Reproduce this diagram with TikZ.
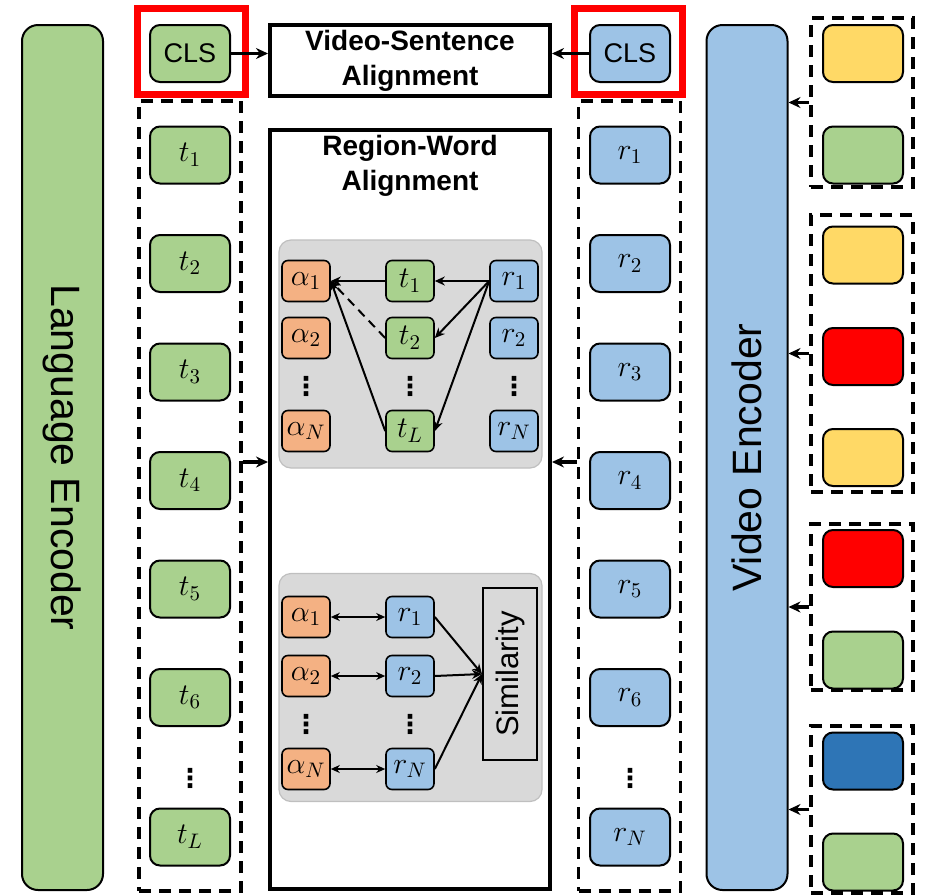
\RequirePackage{fix-cm}
\documentclass[tikz,border=0pt]{standalone}
\usepackage{amsmath}
\usepackage{graphicx}
\usepackage{fontspec}
\setsansfont{Liberation Sans}
\newfontfamily\dotfont{DejaVu Sans}
\usetikzlibrary{arrows.meta}

\definecolor{tokgreen}{HTML}{A9D18E}
\definecolor{tokblue}{HTML}{9DC3E6}
\definecolor{tokorange}{HTML}{F4B183}
\definecolor{tokyellow}{HTML}{FFD966}
\definecolor{tokred}{HTML}{FF0000}
\definecolor{tokdeep}{HTML}{2E75B6}
\definecolor{panelgray}{HTML}{D9D9D9}

\begin{document}
\begin{tikzpicture}[x=0.5pt, y=-0.5pt,
  enc/.style={draw, line width=1pt, rounded corners=8pt, minimum width=40.5pt, minimum height=432.5pt, inner sep=0pt, font=\sffamily\fontsize{20.5}{24}\selectfont},
  tok/.style={draw, line width=1pt, rounded corners=5pt, minimum width=40pt, minimum height=28.5pt, inner sep=0pt, font=\fontsize{15}{18}\selectfont},
  cls/.style={tok, font=\sffamily\fontsize{13.5}{16}\selectfont},
  sm/.style={draw, line width=0.8pt, rounded corners=3pt, minimum width=24pt, minimum height=20.5pt, inner sep=0pt, font=\fontsize{15}{18}\selectfont},
  patch/.style={draw, line width=1pt, rounded corners=5pt, minimum width=40pt, minimum height=28.5pt},
  grp/.style={draw, dash pattern=on 6pt off 4pt, line width=1.6pt, inner sep=0pt, minimum width=51pt},
  hl/.style={draw=tokred, line width=3.5pt, minimum width=54pt, minimum height=43pt},
  alignbox/.style={draw, line width=2pt, minimum width=140pt, inner sep=0pt},
  heading/.style={font=\sffamily\bfseries\fontsize{14}{17.5}\selectfont, align=center, inner sep=0pt},
  panel/.style={draw=black!25, fill=panelgray, line width=0.6pt, rounded corners=6pt, minimum width=131.5pt, minimum height=114pt},
  vdot/.style={font=\dotfont\bfseries\fontsize{13}{15}\selectfont, inner sep=0pt},
  bigarr/.style={-{Stealth[length=6pt,width=5.5pt]}, line width=1.7pt},
  arr/.style={-{Stealth[length=5pt,width=4.5pt]}, line width=1pt},
  dblarr/.style={{Stealth[length=4.5pt,width=4pt]}-{Stealth[length=4.5pt,width=4pt]}, line width=1pt}]

\useasboundingbox (0,0) rectangle (928,895);

% Encoders
\node[enc, fill=tokgreen] (lenc) at (62.5,457.5) {\rotatebox{-90}{Language Encoder}};
\node[enc, fill=tokblue] (venc) at (747,457.5) {\rotatebox{90}{Video Encoder}};

% CLS tokens
\node[cls, fill=tokgreen] (clsT) at (190,53.5) {CLS};
\node[cls, fill=tokblue] (clsR) at (630,53.5) {CLS};
\node[hl] (hlT) at (191.5,51.5) {};
\node[hl] (hlR) at (628.5,51.5) {};

% Word tokens
\node[grp, minimum height=395pt] (tcol) at (190,496) {};
\node[tok, fill=tokgreen] (t1) at (190,155) {$t_1$};
\node[tok, fill=tokgreen] (t2) at (190,263.5) {$t_2$};
\node[tok, fill=tokgreen] (t3) at (190,372) {$t_3$};
\node[tok, fill=tokgreen] (t4) at (190,480.5) {$t_4$};
\node[tok, fill=tokgreen] (t5) at (190,589) {$t_5$};
\node[tok, fill=tokgreen] (t6) at (190,697.5) {$t_6$};
\node[vdot] (td) at (190,778) {⋮};
\node[tok, fill=tokgreen] (tL) at (190,837) {$t_L$};

% Region tokens
\node[grp, minimum height=395pt] (rcol) at (629.5,496) {};
\node[tok, fill=tokblue] (r1) at (630,155) {$r_1$};
\node[tok, fill=tokblue] (r2) at (630,263.5) {$r_2$};
\node[tok, fill=tokblue] (r3) at (630,372) {$r_3$};
\node[tok, fill=tokblue] (r4) at (630,480.5) {$r_4$};
\node[tok, fill=tokblue] (r5) at (630,589) {$r_5$};
\node[tok, fill=tokblue] (r6) at (630,697.5) {$r_6$};
\node[vdot] (rd) at (630,778) {⋮};
\node[tok, fill=tokblue] (rN) at (630,837) {$r_N$};

% Alignment boxes
\node[alignbox, minimum height=35.5pt] (vs) at (410,60.5) {};
\node[heading] (vstitle) at (410,61) {Video-Sentence\\Alignment};
\node[alignbox, minimum height=379.5pt] (rw) at (410,509.5) {};
\node[heading] (rwtitle) at (410,166) {Region-Word\\Alignment};

\draw[bigarr] (clsT.east) -- (vs.west |- clsT.east);
\draw[bigarr] (clsR.west) -- (vs.east |- clsR.west);
\draw[bigarr] (tcol.east |- 0,462) -- (rw.west |- 0,462);
\draw[bigarr] (rcol.west |- 0,462) -- (rw.east |- 0,462);

% Panel 1
\node[panel] (p1) at (410.5,354) {};
\node[sm, fill=tokorange] (pa1) at (306,281) {$\alpha_1$};
\node[sm, fill=tokorange] (pa2) at (306,338) {$\alpha_2$};
\node[vdot] (pad) at (306,386) {⋮};
\node[sm, fill=tokorange] (paN) at (306,431) {$\alpha_N$};
\node[sm, fill=tokgreen] (pt1) at (410,281) {$t_1$};
\node[sm, fill=tokgreen] (pt2) at (410,338) {$t_2$};
\node[vdot] (ptd) at (410,386) {⋮};
\node[sm, fill=tokgreen] (ptL) at (410,431) {$t_L$};
\node[sm, fill=tokblue] (pr1) at (514,281) {$r_1$};
\node[sm, fill=tokblue] (pr2) at (514,338) {$r_2$};
\node[vdot] (prd) at (514,386) {⋮};
\node[sm, fill=tokblue] (prN) at (514,431) {$r_N$};

\draw[arr] (pr1.west) -- (pt1.east);
\draw[arr] (pt1.west) -- (pa1.east);
\draw[arr] (pr1.west) -- (pt2.east);
\draw[arr] (pr1.west) -- (ptL.east);
\draw[arr, dash pattern=on 4.5pt off 3pt] (pt2.west) -- (pa1.east);
\draw[arr] (ptL.west) -- (pa1.east);

% Panel 2
\node[panel] (p2) at (410.5,687.5) {};
\node[sm, fill=tokorange] (qa1) at (306,617) {$\alpha_1$};
\node[sm, fill=tokorange] (qa2) at (306,676) {$\alpha_2$};
\node[vdot] (qad) at (306,724) {⋮};
\node[sm, fill=tokorange] (qaN) at (306,769) {$\alpha_N$};
\node[sm, fill=tokblue] (qr1) at (410,617) {$r_1$};
\node[sm, fill=tokblue] (qr2) at (410,676) {$r_2$};
\node[vdot] (qrd) at (410,724) {⋮};
\node[sm, fill=tokblue] (qrN) at (410,769) {$r_N$};
\node[draw, line width=1pt, minimum width=27pt, minimum height=86pt, inner sep=0pt, font=\sffamily\fontsize{15.5}{18}\selectfont] (sim) at (510,674) {\rotatebox{90}{Similarity}};

\draw[dblarr] (qa1.east) -- (qr1.west);
\draw[dblarr] (qa2.east) -- (qr2.west);
\draw[dblarr] (qaN.east) -- (qrN.west);
\draw[arr] (qr1.east) -- (sim.west);
\draw[arr] (qr2.east) -- (sim.west);
\draw[arr] (qrN.east) -- (sim.west);

% Video frames
\node[grp, minimum height=84.5pt] (g1) at (862,102.5) {};
\node[patch, fill=tokyellow] (f11) at (863,53.5) {};
\node[patch, fill=tokgreen] (f12) at (863,155) {};

\node[grp, minimum height=138.5pt] (g2) at (862,353.5) {};
\node[patch, fill=tokyellow] (f21) at (863,255) {};
\node[patch, fill=tokred] (f22) at (863,356.5) {};
\node[patch, fill=tokyellow] (f23) at (863,457.5) {};

\node[grp, minimum height=83pt] (g3) at (862,607) {};
\node[patch, fill=tokred] (f31) at (863,558.5) {};
\node[patch, fill=tokgreen] (f32) at (863,660) {};

\node[grp, minimum height=83.5pt] (g4) at (862,809.5) {};
\node[patch, fill=tokdeep] (f41) at (863,761) {};
\node[patch, fill=tokgreen] (f42) at (863,862) {};

\draw[bigarr] (g1.west) -- (g1.west -| venc.east);
\draw[bigarr] (g2.west) -- (g2.west -| venc.east);
\draw[bigarr] (g3.west) -- (g3.west -| venc.east);
\draw[bigarr] (g4.west) -- (g4.west -| venc.east);

\end{tikzpicture}
\end{document}
